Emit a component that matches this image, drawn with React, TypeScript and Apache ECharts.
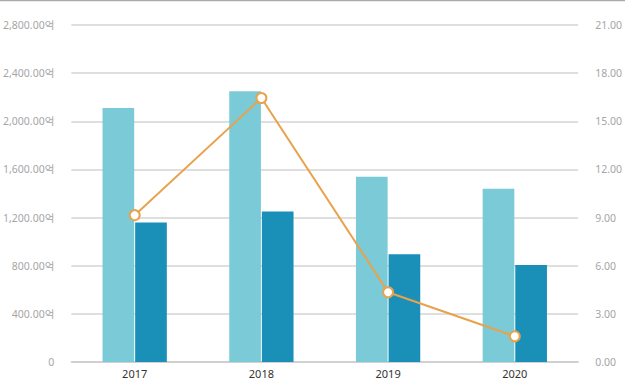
import React, { useEffect, useRef } from "react";
import * as echarts from "echarts";

const categories = ["2017", "2018", "2019", "2020"];
const seriesA = [2110, 2250, 1540, 1440];
const seriesB = [1160, 1250, 895, 805];
const lineValues = [9.15, 16.45, 4.35, 1.6];

const FONT = "'Noto Sans', 'Noto Sans CJK KR', sans-serif";

export default function App() {
  const ref = useRef<HTMLDivElement>(null);
  useEffect(() => {
    if (!ref.current) return;
    const chart = echarts.init(ref.current, undefined, { renderer: "svg" });
    chart.setOption({
      animation: false,
      textStyle: { fontFamily: FONT },
      grid: { left: 70, right: 42, top: 25, bottom: 25, containLabel: false },
      graphic: [
        {
          type: "line",
          shape: { x1: 0, y1: 0.5, x2: 625, y2: 0.5 },
          style: { stroke: "#aaaaaa", lineWidth: 1.5 },
        },
      ],
      xAxis: {
        type: "category",
        data: categories,
        axisLine: { lineStyle: { color: "#cccccc", width: 1.5 } },
        axisTick: { show: false },
        axisLabel: { color: "#333", fontSize: 11, margin: 6, fontFamily: FONT },
      },
      yAxis: [
        {
          type: "value",
          min: 0,
          max: 2800,
          interval: 400,
          axisLine: { show: false },
          axisTick: { show: false },
          splitLine: { lineStyle: { color: "#d4d4d4", width: 1.5 } },
          axisLabel: {
            color: "#a6a6a6",
            fontSize: 10.5,
            margin: 17,
            fontFamily: FONT,
            formatter: (v: number) =>
              v === 0
                ? "0"
                : v.toLocaleString("en-US", { minimumFractionDigits: 2, maximumFractionDigits: 2 }) + "억",
          },
        },
        {
          type: "value",
          min: 0,
          max: 21,
          interval: 3,
          axisLine: { show: false },
          axisTick: { show: false },
          splitLine: { show: false },
          axisLabel: {
            color: "#a6a6a6",
            fontSize: 10.5,
            margin: 17,
            fontFamily: FONT,
            formatter: (v: number) => v.toFixed(2),
          },
        },
      ],
      series: [
        {
          type: "bar",
          data: seriesA,
          barWidth: "25%",
          barGap: "3%",
          itemStyle: { color: "#7acbd7" },
        },
        {
          type: "bar",
          data: seriesB,
          barWidth: "25%",
          itemStyle: { color: "#1a90b9" },
        },
        {
          type: "line",
          yAxisIndex: 1,
          data: lineValues,
          symbol: "circle",
          symbolSize: 10,
          lineStyle: { color: "#e8a24c", width: 2 },
          itemStyle: { color: "#ffffff", borderColor: "#e8a24c", borderWidth: 2 },
        },
      ],
    });
    return () => chart.dispose();
  }, []);
  return <div ref={ref} style={{ width: 625, height: 387, position: "absolute", left: 0, top: 0 }} />;
}
